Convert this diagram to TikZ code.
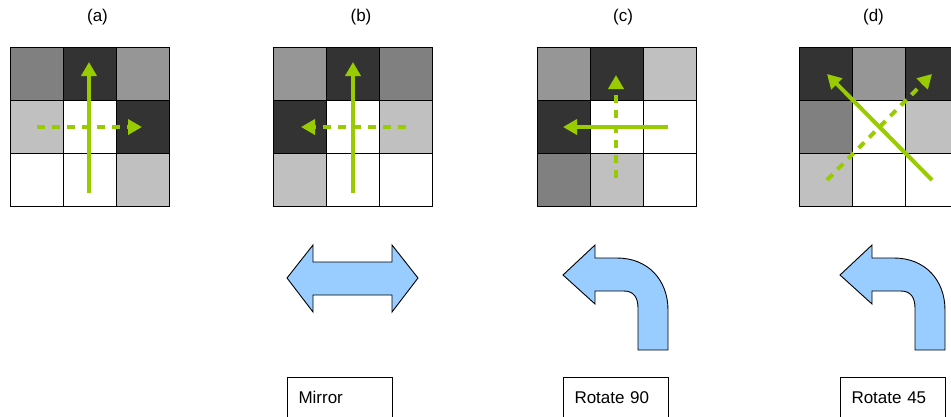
\documentclass[tikz,border=0pt]{standalone}
\usepackage{fontspec}
\setmainfont{Liberation Sans}
\usetikzlibrary{arrows.meta}
\definecolor{gA}{HTML}{808080}
\definecolor{gB}{HTML}{969696}
\definecolor{gC}{HTML}{C0C0C0}
\definecolor{dk}{HTML}{333333}
\definecolor{lime}{HTML}{99CC00}
\definecolor{sky}{HTML}{99CCFF}
\tikzset{
  cell/.style={draw=black, line width=1pt},
  vec/.style={draw=lime, line width=4pt, -{Triangle[length=14pt,width=15pt]}},
  dvec/.style={vec, dash pattern=on 8pt off 7pt},
  blk/.style={draw=black, fill=sky, line width=0.9pt, line join=miter},
  lab/.style={font=\fontsize{17}{20}\selectfont, inner sep=0pt},
  capbox/.style={draw=black, line width=1pt, anchor=north west, minimum width=105pt,
    minimum height=40pt, inner xsep=11pt, inner ysep=0pt, text width=83pt, align=left,
    font=\fontsize{17}{20}\selectfont}
}
\begin{document}
\begin{tikzpicture}[x=1pt,y=-1pt]
\useasboundingbox (0,0) rectangle (951,416);
% grids
\foreach \x/\cols in {10/{gA,dk,gB,gC,white,dk,white,white,gC},
                     273/{gB,dk,gA,dk,white,gC,gC,white,white},
                     537/{gB,dk,gC,dk,white,white,gA,gC,white},
                     799/{dk,gB,dk,gA,white,gC,gC,white,white}}{
  \foreach \c [count=\i from 0] in \cols {
    \pgfmathtruncatemacro\cc{mod(\i,3)}
    \pgfmathtruncatemacro\rr{div(\i,3)}
    \filldraw[cell, fill=\c] (\x+53*\cc, 47+53*\rr) rectangle ++(53,53);
  }
}
% labels
\node[lab] (la) at (97.5,17) {(a)};
\node[lab] (lb) at (361,17) {(b)};
\node[lab] (lc) at (623,17) {(c)};
\node[lab] (ld) at (873.5,17) {(d)};
% arrow end points
\coordinate (a1s) at (89,193);  \coordinate (a1e) at (89,62);
\coordinate (a2s) at (37,127);  \coordinate (a2e) at (142,127);
\coordinate (b1s) at (353,193); \coordinate (b1e) at (353,62);
\coordinate (b2s) at (406,127); \coordinate (b2e) at (301,127);
\coordinate (c1s) at (668,127); \coordinate (c1e) at (563,127);
\coordinate (c2s) at (616,178); \coordinate (c2e) at (616,75);
\coordinate (d1s) at (932,180); \coordinate (d1e) at (827,74);
\coordinate (d2s) at (827,180); \coordinate (d2e) at (932,74);
\draw[vec] (a1s) -- (a1e);
\draw[dvec] (a2s) -- (a2e);
\draw[vec] (b1s) -- (b1e);
\draw[dvec] (b2s) -- (b2e);
\draw[vec] (c1s) -- (c1e);
\draw[dvec] (c2s) -- (c2e);
\draw[vec] (d1s) -- (d1e);
\draw[dvec] (d2s) -- (d2e);
% block arrows
\draw[blk] (287,278) -- (313,245) -- (313,262) -- (392,262) -- (392,245) -- (418,278)
  -- (392,312) -- (392,295) -- (313,295) -- (313,312) -- cycle;
\foreach \s in {0,277}{
  \begin{scope}[xshift=\s]
  \draw[blk] (563,275) -- (595,245) -- (595,258) -- (617,258)
    .. controls (648,258) and (668,280) .. (668,310) -- (668,350) -- (638,350) -- (638,308)
    .. controls (638,298) and (634,291) .. (624,291) -- (595,291) -- (595,304) -- cycle;
  \end{scope}
}
% caption boxes
\node[capbox] (mirror) at (287,377) {Mirror};
\node[capbox] (rot90) at (563,377) {Rotate 90};
\node[capbox] (rot45) at (840,377) {Rotate 45};
\end{tikzpicture}
\end{document}
